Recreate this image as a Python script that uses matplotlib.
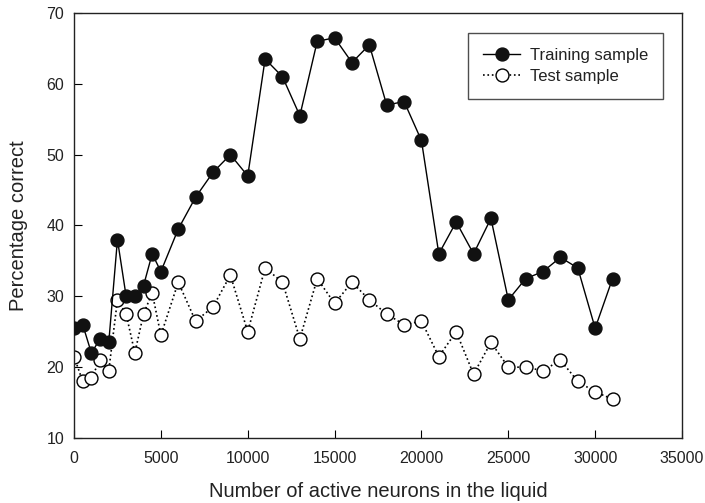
import matplotlib
matplotlib.use("Agg")
import matplotlib.pyplot as plt

plt.rcParams['font.family'] = ['Liberation Sans', 'DejaVu Sans']

x = [0, 500, 1000, 1500, 2000, 2500, 3000, 3500, 4000, 4500, 5000,
     6000, 7000, 8000, 9000, 10000, 11000, 12000, 13000, 14000, 15000,
     16000, 17000, 18000, 19000, 20000, 21000, 22000, 23000, 24000, 25000,
     26000, 27000, 28000, 29000, 30000, 31000]
training = [25.5, 26, 22, 24, 23.5, 38, 30, 30, 31.5, 36, 33.5,
            39.5, 44, 47.5, 50, 47, 63.5, 61, 55.5, 66, 66.5,
            63, 65.5, 57, 57.5, 52, 36, 40.5, 36, 41, 29.5,
            32.5, 33.5, 35.5, 34, 25.5, 32.5]
test = [21.5, 18, 18.5, 21, 19.5, 29.5, 27.5, 22, 27.5, 30.5, 24.5,
        32, 26.5, 28.5, 33, 25, 34, 32, 24, 32.5, 29,
        32, 29.5, 27.5, 26, 26.5, 21.5, 25, 19, 23.5, 20,
        20, 19.5, 21, 18, 16.5, 15.5]
xticks = [0, 5000, 10000, 15000, 20000, 25000, 30000, 35000]
yticks = [10, 20, 30, 40, 50, 60, 70]

fig = plt.figure(figsize=(7.05, 5.03), dpi=100)
ax = fig.add_axes([0.105, 0.1292, 0.8624, 0.845])

ax.plot(x, training, '-', color='black', lw=1.0, marker='o', ms=9.3,
        mfc='#111111', mec='#111111', label='Training sample', zorder=3)
ax.plot(x, test, ':', color='black', lw=1.2, marker='o', ms=9.3,
        mfc='white', mec='black', mew=1.0, label='Test sample', zorder=2)

ax.set_xlim(0, 35000)
ax.set_ylim(10, 70)
ax.set_xticks(xticks)
ax.set_yticks(yticks)
ax.tick_params(direction='in', length=6, labelsize=11.5, top=False, right=False,
               labelcolor='#222222')
ax.tick_params(axis='x', pad=9)
ax.tick_params(axis='y', pad=7)
ax.set_xlabel('Number of active neurons in the liquid', fontsize=14.5, labelpad=12,
              color='#222222')
ax.set_ylabel('Percentage correct', fontsize=14.5, labelpad=13, color='#222222')
for s in ax.spines.values():
    s.set_linewidth(1.0)
    s.set_color('#222222')

leg = ax.legend(loc='upper right', bbox_to_anchor=(0.969, 0.953), borderaxespad=0,
                fontsize=12, frameon=True, fancybox=False, edgecolor='#222222',
                handlelength=2.2, borderpad=0.9, labelspacing=0.35, handletextpad=0.6)
leg.get_frame().set_linewidth(1.0)
for t in leg.get_texts():
    t.set_color('#222222')

fig.savefig('out.png', dpi=100)
